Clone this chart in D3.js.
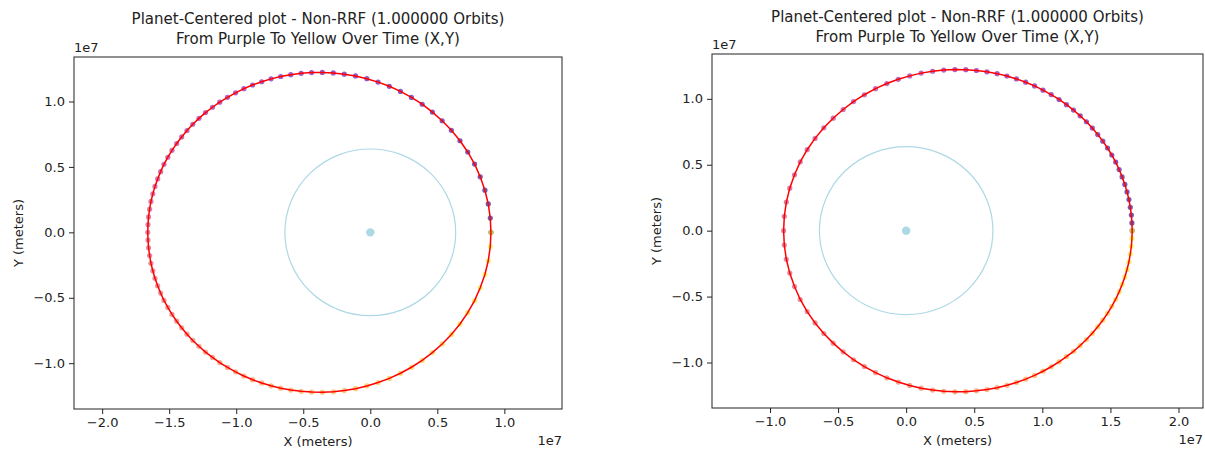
<!DOCTYPE html>
<html><head><meta charset="utf-8">
<script src="https://cdn.jsdelivr.net/npm/d3@7"></script>
<style>
body{margin:0;background:#fff;}
svg{display:block;font-family:"DejaVu Sans",sans-serif;}
</style></head><body>
<svg id="chart" width="1205" height="451"></svg>
<script>
// Orbit samples, one per time step over one orbit, in units of 1e6 m
const leftX = [9.00,8.95,8.80,8.55,8.20,7.78,7.27,6.69,6.05,5.36,4.63,3.87,3.07,2.25,1.42,0.58,-0.26,-1.10,-1.94,-2.76,-3.58,-4.38,-5.16,-5.93,-6.68,-7.40,-8.10,-8.78,-9.43,-10.05,-10.65,-11.23,-11.77,-12.29,-12.78,-13.24,-13.67,-14.07,-14.44,-14.79,-15.10,-15.39,-15.64,-15.86,-16.06,-16.22,-16.36,-16.46,-16.54,-16.58,-16.60,
  -16.58,-16.54,-16.46,-16.36,-16.22,-16.06,-15.86,-15.64,-15.39,-15.10,-14.79,-14.44,-14.07,-13.67,-13.24,-12.78,-12.29,-11.77,-11.23,-10.65,-10.05,-9.43,-8.78,-8.10,-7.40,-6.68,-5.93,-5.16,-4.38,-3.58,-2.76,-1.94,-1.10,-0.26,0.58,1.42,2.25,3.07,3.87,4.63,5.36,6.05,6.69,7.27,7.78,8.20,8.55,8.80,8.95,9.00];
const leftY = [0.00,1.09,2.17,3.22,4.24,5.22,6.14,7.00,7.80,8.53,9.19,9.79,10.31,10.77,11.16,11.48,11.74,11.95,12.09,12.18,12.22,12.21,12.15,12.05,11.91,11.73,11.51,11.26,10.98,10.66,10.32,9.95,9.56,9.15,8.71,8.26,7.78,7.29,6.79,6.27,5.74,5.20,4.64,4.08,3.51,2.94,2.36,1.77,1.18,0.59,0.00,
  -0.59,-1.18,-1.77,-2.36,-2.94,-3.51,-4.08,-4.64,-5.20,-5.74,-6.27,-6.79,-7.29,-7.78,-8.26,-8.71,-9.15,-9.56,-9.95,-10.32,-10.66,-10.98,-11.26,-11.51,-11.73,-11.91,-12.05,-12.15,-12.21,-12.22,-12.18,-12.09,-11.95,-11.74,-11.48,-11.16,-10.77,-10.31,-9.79,-9.19,-8.53,-7.80,-7.00,-6.14,-5.22,-4.24,-3.22,-2.17,-1.09,0.00];
const rightX = [16.60,16.58,16.54,16.46,16.36,16.22,16.06,15.86,15.64,15.39,15.10,14.79,14.44,14.07,13.67,13.24,12.78,12.29,11.77,11.23,10.65,10.05,9.43,8.78,8.10,7.40,6.68,5.93,5.16,4.38,3.58,2.76,1.94,1.10,0.26,-0.58,-1.42,-2.25,-3.07,-3.87,-4.63,-5.36,-6.05,-6.69,-7.27,-7.78,-8.20,-8.55,-8.80,-8.95,-9.00,
  -8.95,-8.80,-8.55,-8.20,-7.78,-7.27,-6.69,-6.05,-5.36,-4.63,-3.87,-3.07,-2.25,-1.42,-0.58,0.26,1.10,1.94,2.76,3.58,4.38,5.16,5.93,6.68,7.40,8.10,8.78,9.43,10.05,10.65,11.23,11.77,12.29,12.78,13.24,13.67,14.07,14.44,14.79,15.10,15.39,15.64,15.86,16.06,16.22,16.36,16.46,16.54,16.58,16.60];
const rightY = [0.00,0.59,1.18,1.77,2.36,2.94,3.51,4.08,4.64,5.20,5.74,6.27,6.79,7.29,7.78,8.26,8.71,9.15,9.56,9.95,10.32,10.66,10.98,11.26,11.51,11.73,11.91,12.05,12.15,12.21,12.22,12.18,12.09,11.95,11.74,11.48,11.16,10.77,10.31,9.79,9.19,8.53,7.80,7.00,6.14,5.22,4.24,3.22,2.17,1.09,0.00,
  -1.09,-2.17,-3.22,-4.24,-5.22,-6.14,-7.00,-7.80,-8.53,-9.19,-9.79,-10.31,-10.77,-11.16,-11.48,-11.74,-11.95,-12.09,-12.18,-12.22,-12.21,-12.15,-12.05,-11.91,-11.73,-11.51,-11.26,-10.98,-10.66,-10.32,-9.95,-9.56,-9.15,-8.71,-8.26,-7.78,-7.29,-6.79,-6.27,-5.74,-5.20,-4.64,-4.08,-3.51,-2.94,-2.36,-1.77,-1.18,-0.59,0.00];

// Tick values in units of 1e7 m
const leftXTicks = [-2.0,-1.5,-1.0,-0.5,0.0,0.5,1.0];
const rightXTicks = [-1.0,-0.5,0.0,0.5,1.0,1.5,2.0];
const yTicks = [-1.0,-0.5,0.0,0.5,1.0];

const titleLines = ["Planet-Centered plot - Non-RRF (1.000000 Orbits)", "From Purple To Yellow Over Time (X,Y)"];
const xLabel = "X (meters)";
const yLabel = "Y (meters)";
const offsetLabel = "1e7";
const planetRadius = 6.371; // 1e6 m

const svg = d3.select("#chart");
const defs = svg.append("defs");
const fmt = d => (d / 10).toFixed(1).replace("-", "\u2212");

function panel(id, box, xDom, yDom, xs, ys, xTicks, titleY) {
  const x = d3.scaleLinear().domain(xDom).range([box.x0, box.x1]);
  const y = d3.scaleLinear().domain(yDom).range([box.y1, box.y0]);
  const g = svg.append("g");

  defs.append("clipPath").attr("id", "clip-" + id)
    .append("rect").attr("x", box.x0).attr("y", box.y0)
    .attr("width", box.x1 - box.x0).attr("height", box.y1 - box.y0);
  const plot = g.append("g").attr("clip-path", `url(#clip-${id})`);

  // planet outline and centre
  plot.append("ellipse")
    .attr("cx", x(0)).attr("cy", y(0))
    .attr("rx", x(planetRadius) - x(0)).attr("ry", y(0) - y(planetRadius))
    .attr("fill", "none").attr("stroke", "#add8e6").attr("stroke-width", 1.2);
  plot.append("circle").attr("cx", x(0)).attr("cy", y(0)).attr("r", 4.2).attr("fill", "#add8e6");

  // time-coloured samples, with the trajectory line drawn over them
  const idx = d3.range(xs.length);
  const color = i => d3.interpolatePlasma(i / (xs.length - 1));
  plot.append("g").selectAll("circle").data(idx).join("circle")
    .attr("cx", i => x(xs[i])).attr("cy", i => y(ys[i]))
    .attr("r", 2.6).attr("fill", color).attr("fill-opacity", 0.65);
  plot.append("path")
    .attr("d", d3.line().x(i => x(xs[i])).y(i => y(ys[i]))(idx))
    .attr("fill", "none").attr("stroke", "#ff0000").attr("stroke-width", 1.5);

  // axes
  const xAxis = d3.axisBottom(x).tickValues(xTicks.map(t => t * 10)).tickFormat(fmt).tickSizeOuter(0).tickSize(5).tickPadding(4);
  const yAxis = d3.axisLeft(y).tickValues(yTicks.map(t => t * 10)).tickFormat(fmt).tickSizeOuter(0).tickSize(5).tickPadding(4);
  const gx = g.append("g").attr("transform", `translate(0,${box.y1})`).call(xAxis);
  const gy = g.append("g").attr("transform", `translate(${box.x0},0)`).call(yAxis);
  [gx, gy].forEach(a => {
    a.select(".domain").remove();
    a.selectAll("text").attr("font-size", 13).attr("fill", "#222").attr("font-family", "DejaVu Sans");
    a.selectAll("line").attr("stroke", "#222");
  });

  g.append("rect").attr("x", box.x0).attr("y", box.y0)
    .attr("width", box.x1 - box.x0).attr("height", box.y1 - box.y0)
    .attr("fill", "none").attr("stroke", "#222").attr("stroke-width", 1);

  const cx = (box.x0 + box.x1) / 2;
  g.append("text").attr("x", cx).attr("y", titleY).attr("text-anchor", "middle")
    .attr("font-size", 15).attr("fill", "#222").text(titleLines[0]);
  g.append("text").attr("x", cx).attr("y", titleY + 20).attr("text-anchor", "middle")
    .attr("font-size", 15).attr("fill", "#222").text(titleLines[1]);

  g.append("text").attr("x", box.x0).attr("y", box.y0 - 5)
    .attr("font-size", 13).attr("fill", "#222").text(offsetLabel);
  g.append("text").attr("x", box.x1).attr("y", box.y1 + 36).attr("text-anchor", "end")
    .attr("font-size", 13).attr("fill", "#222").text(offsetLabel);

  g.append("text").attr("x", cx).attr("y", box.y1 + 37).attr("text-anchor", "middle")
    .attr("font-size", 13).attr("fill", "#222").text(xLabel);
  g.append("text").attr("transform", `translate(${box.x0 - 51},${(box.y0 + box.y1) / 2}) rotate(-90)`)
    .attr("text-anchor", "middle").attr("font-size", 13).attr("fill", "#222").text(yLabel);
}

panel("left", {x0: 74, x1: 562, y0: 57, y1: 409}, [-22.1, 14.3], [-13.5, 13.4],
  leftX, leftY, leftXTicks, 24);
panel("right", {x0: 712, x1: 1203, y0: 54, y1: 408}, [-14.26, 21.8], [-13.45, 13.4],
  rightX, rightY, rightXTicks, 22);
</script>
</body></html>
